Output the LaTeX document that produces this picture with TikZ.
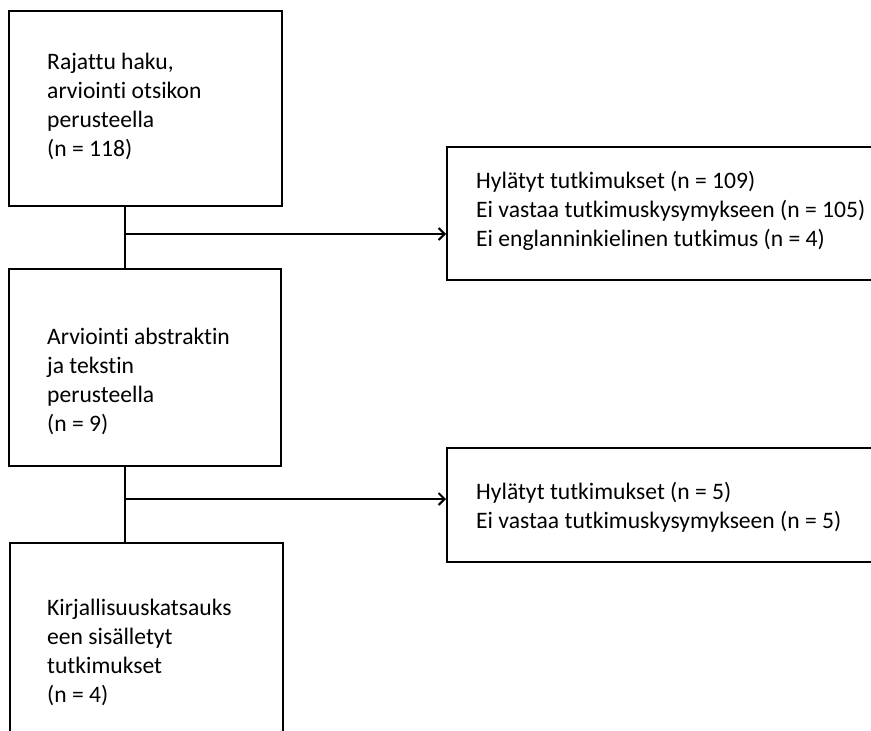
\documentclass[tikz,border=0pt]{standalone}
\usepackage{fontspec}
\setmainfont{Carlito}[Ligatures={NoCommon}]
\usetikzlibrary{arrows.meta}
\begin{document}
\begin{tikzpicture}[x=1pt,y=-1pt,
  box/.style={draw=black,line width=2pt,rectangle,inner sep=0pt},
  txt/.style={anchor=west,align=left,inner sep=0pt,font=\fontsize{23.6}{29}\selectfont},
  conn/.style={draw=black,line width=2pt},
  arr/.style={conn,-{Straight Barb[length=6pt,width=12pt,line width=2pt]}}]
\useasboundingbox[fill=white] (0,0) rectangle (871,731);
% boxes
\node[box,minimum width=273pt,minimum height=195pt,anchor=north west] (b1) at (8,10) {};
\node[box,minimum width=272pt,minimum height=197pt,anchor=north west] (b2) at (8,268) {};
\node[box,minimum width=273pt,minimum height=220pt,anchor=north west] (b3) at (9,542) {};
\node[box,minimum width=460pt,minimum height=133pt,anchor=north west] (r1) at (446,146) {};
\node[box,minimum width=460pt,minimum height=114pt,anchor=north west] (r2) at (446,447) {};
% texts
\node[txt] (t1) at (47,106) {Rajattu haku,\\arviointi otsikon\\perusteella\\(n = 118)};
\node[txt] (t2) at (47,381) {Arviointi abstraktin\\ja tekstin\\perusteella\\(n = 9)};
\node[txt] (t3) at (47,652) {Kirjallisuuskatsauks\\een sisälletyt\\tutkimukset\\(n = 4)};
\node[txt] (t4) at (476,211) {Hylätyt tutkimukset (n = 109)\\Ei vastaa tutkimuskysymykseen (n = 105)\\Ei englanninkielinen tutkimus (n = 4)};
\node[txt] (t5) at (476,507) {Hylätyt tutkimukset (n = 5)\\Ei vastaa tutkimuskysymykseen (n = 5)};
% connectors
\coordinate (j1) at (125,234);
\coordinate (j2) at (125,499);
\draw[conn] (b1.south -| j1) -- (b2.north -| j1);
\draw[conn] (b2.south -| j2) -- (b3.north -| j2);
\draw[arr] (j1) -- (j1 -| r1.west);
\draw[arr] (j2) -- (j2 -| r2.west);
\end{tikzpicture}
\end{document}
